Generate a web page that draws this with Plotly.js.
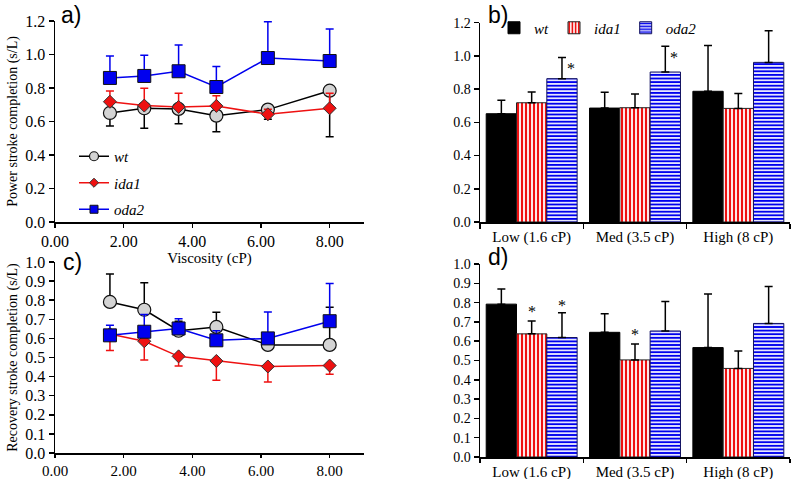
<!DOCTYPE html>
<html>
<head>
<meta charset="utf-8">
<script src="https://cdn.plot.ly/plotly-3.0.1.min.js"></script>
<style>html,body{margin:0;padding:0;background:#fff;}#chart{width:800px;height:479px;}</style>
</head>
<body>
<div id="chart"></div>
<script>
// ---------- data ----------
var viscosity = [1.6, 2.6, 3.6, 4.7, 6.2, 8.0];
var strains = ['wt', 'ida1', 'oda2'];
var categories = ['Low (1.6 cP)', 'Med (3.5 cP)', 'High (8 cP)'];

// a) power stroke completion vs viscosity
var wtPower = [0.651, 0.679, 0.675, 0.635, 0.671, 0.784];
var wtPowerErr = [0.078, 0.120, 0.088, 0.096, 0.058, 0.275];      // downward
var ida1Power = [0.718, 0.695, 0.687, 0.693, 0.643, 0.679];
var ida1PowerErr = [0.064, 0.103, 0.081, 0.060, 0.030, 0.090];    // upward
var oda2Power = [0.860, 0.872, 0.900, 0.806, 0.979, 0.961];
var oda2PowerErr = [0.131, 0.123, 0.157, 0.123, 0.217, 0.191];    // upward

// c) recovery stroke completion vs viscosity
var wtRecovery = [0.791, 0.750, 0.640, 0.660, 0.566, 0.566];
var wtRecoveryErr = [0.146, 0.142, 0.050, 0.077, 0.020, 0.197];   // upward
var ida1Recovery = [0.623, 0.585, 0.506, 0.482, 0.453, 0.458];
var ida1RecoveryErr = [0.086, 0.098, 0.051, 0.101, 0.081, 0.046]; // downward
var oda2Recovery = [0.616, 0.635, 0.652, 0.590, 0.600, 0.690];
var oda2RecoveryErr = [0.053, 0.090, 0.051, 0.050, 0.138, 0.198]; // upward

// b) power stroke bars
var wtPowerBar = [0.652, 0.686, 0.787];
var wtPowerBarErr = [0.081, 0.095, 0.275];
var ida1PowerBar = [0.718, 0.688, 0.684];
var ida1PowerBarErr = [0.065, 0.083, 0.089];
var oda2PowerBar = [0.863, 0.903, 0.961];
var oda2PowerBarErr = [0.127, 0.155, 0.191];
var oda2PowerSig = [true, true, false];

// d) recovery stroke bars
var wtRecoveryBar = [0.792, 0.646, 0.567];
var wtRecoveryBarErr = [0.078, 0.096, 0.277];
var ida1RecoveryBar = [0.638, 0.503, 0.459];
var ida1RecoveryBarErr = [0.067, 0.083, 0.090];
var oda2RecoveryBar = [0.619, 0.653, 0.692];
var oda2RecoveryBarErr = [0.128, 0.153, 0.192];
var ida1RecoverySig = [true, true, false];
var oda2RecoverySig = [true, false, false];

// ---------- styles ----------
var SERIF = 'Liberation Serif';
var SANS = 'Liberation Sans';
var RED = '#ee1111', BLUE = '#0000ee', GREY = '#d4d4d4';
var W = 800, H = 479;
function px(x) { return x / W; }
function py(y) { return 1 - y / H; }
function zeros(n) { var a = []; for (var i = 0; i < n; i++) a.push(0); return a; }

var lineStyle = {
  wt: {line: {color: '#000', width: 1.5}, marker: {symbol: 'circle', size: 13, color: GREY, line: {color: '#111', width: 1.2}}, err: '#000'},
  ida1: {line: {color: RED, width: 1.5}, marker: {symbol: 'diamond', size: 10, color: RED, line: {color: '#333', width: 1}}, err: RED},
  oda2: {line: {color: BLUE, width: 1.5}, marker: {symbol: 'square', size: 13, color: BLUE, line: {color: '#111', width: 1}}, err: BLUE}
};

function lineTrace(name, ys, err, up, xa, ya) {
  var s = lineStyle[name];
  return {
    type: 'scatter', mode: 'lines+markers', x: viscosity, y: ys, name: name,
    xaxis: xa, yaxis: ya, showlegend: false, cliponaxis: false,
    line: s.line, marker: s.marker,
    error_y: {type: 'data', symmetric: false, array: up ? err : zeros(err.length),
              arrayminus: up ? zeros(err.length) : err, color: s.err, thickness: 1.5, width: 4}
  };
}

function legendTrace(name, msize) {
  var s = lineStyle[name];
  return {type: 'scatter', mode: 'lines+markers', x: [null], y: [null], name: name,
          xaxis: 'x', yaxis: 'y', legend: 'legend', legendgroup: name, showlegend: true,
          line: s.line, marker: {symbol: s.marker.symbol, size: msize, color: s.marker.color, line: s.marker.line}};
}

var barStyle = {
  wt: {color: '#000000', line: {color: '#000', width: 1}},
  ida1: {color: RED, line: {color: '#222', width: 1},
         pattern: {shape: '|', fgcolor: RED, bgcolor: '#ffffff', size: 4, solidity: 0.55, fillmode: 'replace'}},
  oda2: {color: BLUE, line: {color: '#101060', width: 1},
         pattern: {shape: '-', fgcolor: BLUE, bgcolor: '#ffffff', size: 3.6, solidity: 0.55, fillmode: 'replace'}}
};

function barTrace(name, ys, err, xa, ya, show) {
  return {
    type: 'bar', x: categories, y: ys, name: name, xaxis: xa, yaxis: ya,
    legend: 'legend2', showlegend: show, marker: barStyle[name],
    error_y: {type: 'data', symmetric: false, array: err, arrayminus: zeros(err.length),
              color: '#000', thickness: 1.5, width: 4}
  };
}

var data = [
  lineTrace('wt', wtPower, wtPowerErr, false, 'x', 'y'),
  lineTrace('ida1', ida1Power, ida1PowerErr, true, 'x', 'y'),
  lineTrace('oda2', oda2Power, oda2PowerErr, true, 'x', 'y'),
  lineTrace('wt', wtRecovery, wtRecoveryErr, true, 'x3', 'y3'),
  lineTrace('ida1', ida1Recovery, ida1RecoveryErr, false, 'x3', 'y3'),
  lineTrace('oda2', oda2Recovery, oda2RecoveryErr, true, 'x3', 'y3'),
  legendTrace('wt', 9), legendTrace('ida1', 7), legendTrace('oda2', 8),
  barTrace('wt', wtPowerBar, wtPowerBarErr, 'x2', 'y2', true),
  barTrace('ida1', ida1PowerBar, ida1PowerBarErr, 'x2', 'y2', true),
  barTrace('oda2', oda2PowerBar, oda2PowerBarErr, 'x2', 'y2', true),
  barTrace('wt', wtRecoveryBar, wtRecoveryBarErr, 'x4', 'y4', false),
  barTrace('ida1', ida1RecoveryBar, ida1RecoveryBarErr, 'x4', 'y4', false),
  barTrace('oda2', oda2RecoveryBar, oda2RecoveryBarErr, 'x4', 'y4', false)
];

// ---------- axes ----------
function tf(size) { return {family: SERIF, size: size, color: '#000'}; }
function baseAxis(extra) {
  var a = {showline: true, linecolor: '#000', linewidth: 1.5, ticks: 'outside', ticklen: 5,
           tickwidth: 1.5, tickcolor: '#000', showgrid: false, zeroline: false, tickfont: tf(14),
           fixedrange: true};
  for (var k in extra) a[k] = extra[k];
  return a;
}

var BARGAP = 0.12;
var barW = (1 - BARGAP) / 3;
var annotations = [
  {text: 'a)', x: px(71), y: py(15)}, {text: 'b)', x: px(498), y: py(15)},
  {text: 'c)', x: px(72), y: py(262)}, {text: 'd)', x: px(498), y: py(257)}
].map(function (a) {
  return {text: a.text, x: a.x, y: a.y, xref: 'paper', yref: 'paper', showarrow: false,
          font: {family: SANS, size: 23, color: '#000'}, xanchor: 'center', yanchor: 'middle'};
});

function star(i, offset, top, xa, ya, xs, ys) {
  annotations.push({text: '*', x: i + offset * barW, y: top, xref: xa, yref: ya, showarrow: false,
                    xshift: xs, yshift: ys, font: {family: SERIF, size: 16, color: '#000000'}});
}
for (var i = 0; i < 3; i++) {
  if (oda2PowerSig[i]) star(i, 1, oda2PowerBar[i] + oda2PowerBarErr[i], 'x2', 'y2', 9, -11);
  if (ida1RecoverySig[i]) star(i, 0, ida1RecoveryBar[i] + ida1RecoveryBarErr[i], 'x4', 'y4', 0, 9);
  if (oda2RecoverySig[i]) star(i, 1, oda2RecoveryBar[i] + oda2RecoveryBarErr[i], 'x4', 'y4', 0, 7);
}

var layout = {
  width: W, height: H, margin: {l: 0, r: 0, t: 0, b: 0},
  paper_bgcolor: '#fff', plot_bgcolor: 'rgba(0,0,0,0)',
  barmode: 'group', bargap: BARGAP, bargroupgap: 0,
  font: {family: SERIF, size: 14, color: '#000'},
  xaxis: baseAxis({domain: [px(55), px(364)], range: [0, 9], tickvals: [0, 2, 4, 6, 8], tickformat: '.2f',
                   anchor: 'y', tickfont: tf(16), ticklen: 4,
                   title: {text: 'Viscosity (cP)', font: {family: SERIF, size: 15}, standoff: 3}}),
  yaxis: baseAxis({domain: [py(222), py(21)], range: [0, 1.2], dtick: 0.2, tickformat: '.1f', anchor: 'x',
                   tickfont: tf(16),
                   title: {text: 'Power stroke completion (s/L)', font: {family: SERIF, size: 14}, standoff: 4}}),
  xaxis2: baseAxis({domain: [px(480), px(790)], type: 'category', tickson: 'boundaries', anchor: 'y2',
                    tickfont: tf(15)}),
  yaxis2: baseAxis({domain: [py(222), py(22.7)], range: [0, 1.2], dtick: 0.2, tickformat: '.1f', anchor: 'x2'}),
  xaxis3: baseAxis({domain: [px(55), px(364)], range: [0, 9], tickvals: [0, 2, 4, 6, 8], tickformat: '.2f',
                    anchor: 'y3', tickfont: tf(15), ticklen: 3}),
  yaxis3: baseAxis({domain: [py(453), py(262)], range: [0, 1.0], dtick: 0.1, tickformat: '.1f', anchor: 'x3',
                    tickfont: tf(16),
                    title: {text: 'Recovery stroke completion (s/L)', font: {family: SERIF, size: 14}, standoff: 4}}),
  xaxis4: baseAxis({domain: [px(480), px(790)], type: 'category', tickson: 'boundaries', anchor: 'y4',
                    tickfont: tf(15), ticklen: 4}),
  yaxis4: baseAxis({domain: [py(457), py(264)], range: [0, 1.0], dtick: 0.1, tickformat: '.1f', anchor: 'x4'}),
  legend: {x: px(74), y: py(140), xanchor: 'left', yanchor: 'top', bgcolor: 'rgba(0,0,0,0)',
           traceorder: 'grouped', tracegroupgap: 4, itemwidth: 30,
           font: {family: SERIF, size: 15, style: 'italic', color: '#000'}},
  legend2: {x: px(494), y: py(28), xanchor: 'left', yanchor: 'middle', orientation: 'h',
            bgcolor: 'rgba(0,0,0,0)', itemwidth: 30,
            font: {family: SERIF, size: 15, style: 'italic', color: '#000'}},
  annotations: annotations
};

Plotly.newPlot('chart', data, layout, {displayModeBar: false, staticPlot: true});
</script>
</body>
</html>
